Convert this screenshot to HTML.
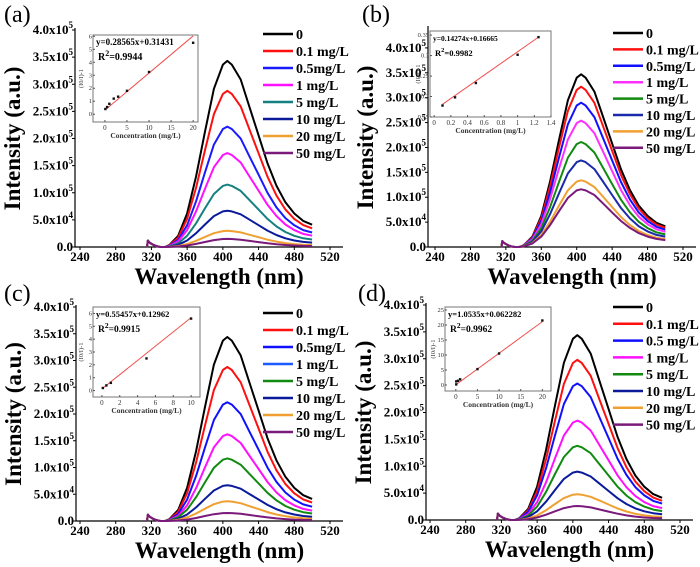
<!DOCTYPE html>
<html><head><meta charset="utf-8"><style>
html,body{margin:0;padding:0;background:#fff;}
svg{display:block;font-family:"Liberation Serif",serif;}
</style></head><body>
<svg id="fig" width="700" height="567" viewBox="0 0 700 567" xmlns="http://www.w3.org/2000/svg"></svg>
<script>
// ---- data ----
const seriesLabels = ["0","0.1 mg/L","0.5mg/L","1 mg/L","5 mg/L","10 mg/L","20 mg/L","50 mg/L"];
const seriesLabelsD = ["0","0.1 mg/L","0.5 mg/L","1 mg/L","5 mg/L","10 mg/L","20 mg/L","50 mg/L"];
const profileWl = [335,340,350,360,370,380,390,400,405,410,420,430,440,450,460,470,480,490,500];
const profileRel = [0,0.01,0.06,0.18,0.38,0.62,0.85,0.98,1.0,0.98,0.9,0.75,0.6,0.45,0.33,0.24,0.18,0.14,0.12];
const spikeWl = [315,316,318,322,326,330,335];
const spikeVal = [0,0.12,0.08,0.04,0.015,0,0];
const peaksA = [3.43,2.88,2.22,1.73,1.15,0.67,0.30,0.15];
const peaksB = [3.47,3.22,2.90,2.54,2.11,1.74,1.34,1.16];
const peaksC = [3.44,2.88,2.22,1.62,1.17,0.67,0.37,0.15];
const peaksD = [3.44,2.98,2.54,1.85,1.38,0.90,0.48,0.26];
const xTicks = [240,280,320,360,400,440,480,520];
const yTicksA = [0,0.5,1.0,1.5,2.0,2.5,3.0,3.5,4.0];
const yTicksB = [0,0.5,1.0,1.5,2.0,2.5,3.0,3.5,4.0];
const insetXA = [0.1,0.5,1,2,3,5,10,20];
const insetYA = [0.4,0.55,0.8,1.2,1.35,1.8,3.25,5.5];
const insetXB = [0.1,0.25,0.5,1,1.25];
const insetYB = [0.178,0.198,0.233,0.302,0.345];
const insetXC = [0.1,0.5,1,5,10];
const insetYC = [0.2,0.4,0.6,2.5,5.6];
const insetXD = [0.1,0.1,0.5,1,5,10,20];
const insetYD = [0.2,1.2,1.4,1.9,5.3,10.5,21.5];
const fitA = [0.28565,0.31431], fitB=[0.14274,0.16665], fitC=[0.55457,0.12962], fitD=[1.0535,0.062282];
const insetTicksXA=[0,5,10,15,20], insetTicksYA=[0,1,2,3,4,5,6];
const insetTicksXB=[0,0.2,0.4,0.6,0.8,1.0,1.2,1.4], insetTicksYB=[0.15,0.20,0.25,0.30,0.35];
const insetTicksXC=[0,2,4,6,8,10], insetTicksYC=[0,1,2,3,4,5,6];
const insetTicksXD=[0,5,10,15,20], insetTicksYD=[0,5,10,15,20,25];

const NS="http://www.w3.org/2000/svg";
const svg=document.getElementById('fig');
function mk(tag,attrs,parent,txt){const e=document.createElementNS(NS,tag);for(const k in attrs)e.setAttribute(k,attrs[k]);if(txt!==undefined)e.textContent=txt;(parent||svg).appendChild(e);return e;}

const panels=[
 {id:'a',label:'(a)',lx:4,ly:22,peaks:peaksA,colors:['#000','#ff1010','#1a1aff','#ff10ff','#148080','#0a1a9a','#f0a030','#7a1a7a'],
  L:75,wl0:240,px0:80,wl1:520,px1:330,R:343,T:30,B:247,ymax:4.0,yt:yTicksA,legX:263,legY:34,legS:17,labels:seriesLabels,
  ins:{box:[93,35,198,122],xd:[-2.7,21.1],yd:[-0.6,6.1],xs:insetXA,ys:insetYA,fit:fitA,tx:insetTicksXA,ty:insetTicksYA,eq:'y=0.28565x+0.31431',r2:'0.9944',fs:9}},
 {id:'b',label:'(b)',lx:362,ly:22,peaks:peaksB,colors:['#000','#ff1010','#1010ff','#ff30ff','#108a10','#1a2aaa','#f0a030','#7a1a7a'],
  L:428,wl0:240,px0:435,wl1:520,px1:683,R:696,T:28,B:247,ymax:4.4,yt:yTicksB,legX:613,legY:33,legS:16.4,labels:seriesLabels,
  ins:{box:[430,31,551,117],xd:[-0.05,1.4],yd:[0.15,0.36],xs:insetXB,ys:insetYB,fit:fitB,tx:insetTicksXB,ty:insetTicksYB,eq:'y=0.14274x+0.16665',r2:'0.9982',fs:7.5}},
 {id:'c',label:'(c)',lx:4,ly:301,peaks:peaksC,colors:['#000','#ff1010','#1010ff','#ff10ff','#108a10','#0a1a9a','#f0a030','#7a1a7a'],
  L:76,wl0:240,px0:80,wl1:520,px1:330,R:343,T:307,B:521,ymax:4.0,yt:yTicksA,legX:263,legY:313,legS:17,labels:seriesLabels,legColors:['#000','#ff1010','#1010ff','#1a5aff','#108a10','#0a1a9a','#f0a030','#7a1a7a'],
  ins:{box:[93,307,200,397],xd:[-1,11],yd:[-0.5,6.5],xs:insetXC,ys:insetYC,fit:fitC,tx:insetTicksXC,ty:insetTicksYC,eq:'y=0.55457x+0.12962',r2:'0.9915',fs:8.5}},
 {id:'d',label:'(d)',lx:358,ly:301,peaks:peaksD,colors:['#000','#ff1010','#1010ff','#ff10ff','#108a10','#0a1a9a','#f0a030','#7a1a7a'],
  L:426,wl0:240,px0:430,wl1:520,px1:680,R:693,T:305,B:520,ymax:4.0,yt:yTicksA,legX:613,legY:307,legS:16.8,labels:seriesLabelsD,
  ins:{box:[445,307,551,391],xd:[-2.5,22],yd:[-2,26],xs:insetXD,ys:insetYD,fit:fitD,tx:insetTicksXD,ty:insetTicksYD,eq:'y=1.0535x+0.062282',r2:'0.9962',fs:8.5}}
];

panels.forEach(p=>{
  const g=mk('g',{});
  
  
  const sx=w=>p.px0+(w-p.wl0)*(p.px1-p.px0)/(p.wl1-p.wl0);
  const sy=v=>p.B-v*(p.B-p.T)/p.ymax;
  const pl=mk('text',{x:p.lx,y:p.ly,'font-size':24},g,p.label);
  
  
  // axes
  const ax=mk('path',{d:`M${p.L},${p.T-2}V${p.B}H${p.R}`,stroke:'#000','stroke-width':1.2,fill:'none'},g);
  
  
  xTicks.forEach(t=>{
    const x=sx(t);
    mk('line',{x1:x,x2:x,y1:p.B,y2:p.B+3,stroke:'#000'},g);
    const tl=mk('text',{x:x,y:p.B+14,'font-size':13,'font-weight':'bold','text-anchor':'middle'},g,String(t));
    
    
  });
  p.yt.forEach(t=>{
    const y=sy(t);
    mk('line',{x1:p.L-3,x2:p.L,y1:y,y2:y,stroke:'#000'},g);
    const tl=mk('text',{x:p.L-2,y:y+4,'font-size':13,'font-weight':'bold','text-anchor':'end'},g);
    
    
    if(t===0){tl.textContent='0.0';}
    else{
      const isE4=t<1;
      const m=isE4?(t*10).toFixed(1):t.toFixed(1);
      tl.appendChild(document.createTextNode(m+'x10'));
      const s=document.createElementNS(NS,'tspan');s.setAttribute('dy','-6');s.setAttribute('font-size','9');s.textContent=isE4?'4':'5';tl.appendChild(s);
    }
  });
  const xt=mk('text',{x:(p.L+p.R)/2+10,y:p.B+37,'font-size':23,'font-weight':'bold','text-anchor':'middle'},g,'Wavelength (nm)');
  
  
  const cy=(p.T+p.B)/2, cx=p.L-55;
  const yt=mk('text',{x:cx,y:cy,'font-size':23,'font-weight':'bold','text-anchor':'middle',transform:`rotate(-90 ${cx} ${cy})`},g,'Intensity (a.u.)');
  
  
  // curves
  p.peaks.forEach((pk,i)=>{
    let d='';
    spikeWl.forEach((w,j)=>{d+=(j?'L':'M')+sx(w).toFixed(1)+','+sy(spikeVal[j]).toFixed(1);});
    profileWl.forEach((w,j)=>{d+='L'+sx(w).toFixed(1)+','+sy(pk*profileRel[j]).toFixed(1);});
    const c=mk('path',{d:d,stroke:p.colors[i],'stroke-width':2,fill:'none','stroke-linejoin':'round'},g);
    
    
  });
  // legend
  p.labels.forEach((lb,i)=>{
    const y=p.legY+i*p.legS;
    const lc=(p.legColors||p.colors)[i];
    const e=mk('g',{},g);
    
    
    mk('line',{x1:p.legX,x2:p.legX+30,y1:y,y2:y,stroke:lc,'stroke-width':2.5},e);
    mk('text',{x:p.legX+33,y:y+5,'font-size':14,'font-weight':'bold'},e,lb);
  });
  // inset
  const I=p.ins,[bx0,by0,bx1,by1]=I.box;
  const ix=v=>bx0+(v-I.xd[0])*(bx1-bx0)/(I.xd[1]-I.xd[0]);
  const iy=v=>by1-(v-I.yd[0])*(by1-by0)/(I.yd[1]-I.yd[0]);
  const ig=mk('g',{},g);
  
  
  mk('rect',{x:bx0,y:by0,width:bx1-bx0,height:by1-by0,fill:'#fff',stroke:'#777','stroke-width':1},ig);
  I.tx.forEach(t=>{mk('line',{x1:ix(t),x2:ix(t),y1:by1,y2:by1-2,stroke:'#555'},ig);
    mk('text',{x:ix(t),y:by1+8,'font-size':7,'text-anchor':'middle',fill:'#333'},ig,String(t));});
  I.ty.forEach(t=>{mk('line',{x1:bx0,x2:bx0+2,y1:iy(t),y2:iy(t),stroke:'#555'},ig);
    mk('text',{x:bx0-1,y:iy(t)+2,'font-size':6.5,'text-anchor':'end',fill:'#333'},ig,String(t));});
  mk('text',{x:(bx0+bx1)/2,y:by1+16,'font-size':7.5,'font-weight':'bold','text-anchor':'middle',fill:'#333'},ig,'Concentration (mg/L)');
  const yx=bx0-10,yy=(by0+by1)/2;
  mk('text',{x:yx,y:yy,'font-size':6.5,'text-anchor':'middle',fill:'#333',transform:`rotate(-90 ${yx} ${yy})`},ig,'(I0/I)-1');
  const fl=mk('line',{x1:ix(I.xs[0]),y1:iy(I.fit[0]*I.xs[0]+I.fit[1]),x2:ix(I.xs[I.xs.length-1]),y2:iy(I.fit[0]*I.xs[I.xs.length-1]+I.fit[1]),stroke:'#f05050','stroke-width':1},ig);
  
  
  I.xs.forEach((v,j)=>{
    const pt=mk('rect',{x:ix(v)-1.2,y:iy(I.ys[j])-1.2,width:2.4,height:2.4,fill:'#111'},ig);
    
    
  });
  mk('text',{x:bx0+3,y:by0+10,'font-size':I.fs,'font-weight':'bold'},ig,I.eq);
  const r=mk('text',{x:bx0+5,y:by0+25,'font-size':I.fs+1,'font-weight':'bold'},ig,'R');
  const s=document.createElementNS(NS,'tspan');s.setAttribute('dy','-4');s.setAttribute('font-size',I.fs-1);s.textContent='2';r.appendChild(s);
  const s2=document.createElementNS(NS,'tspan');s2.setAttribute('dy','4');s2.textContent='='+I.r2;r.appendChild(s2);
});
</script>
</body></html>
